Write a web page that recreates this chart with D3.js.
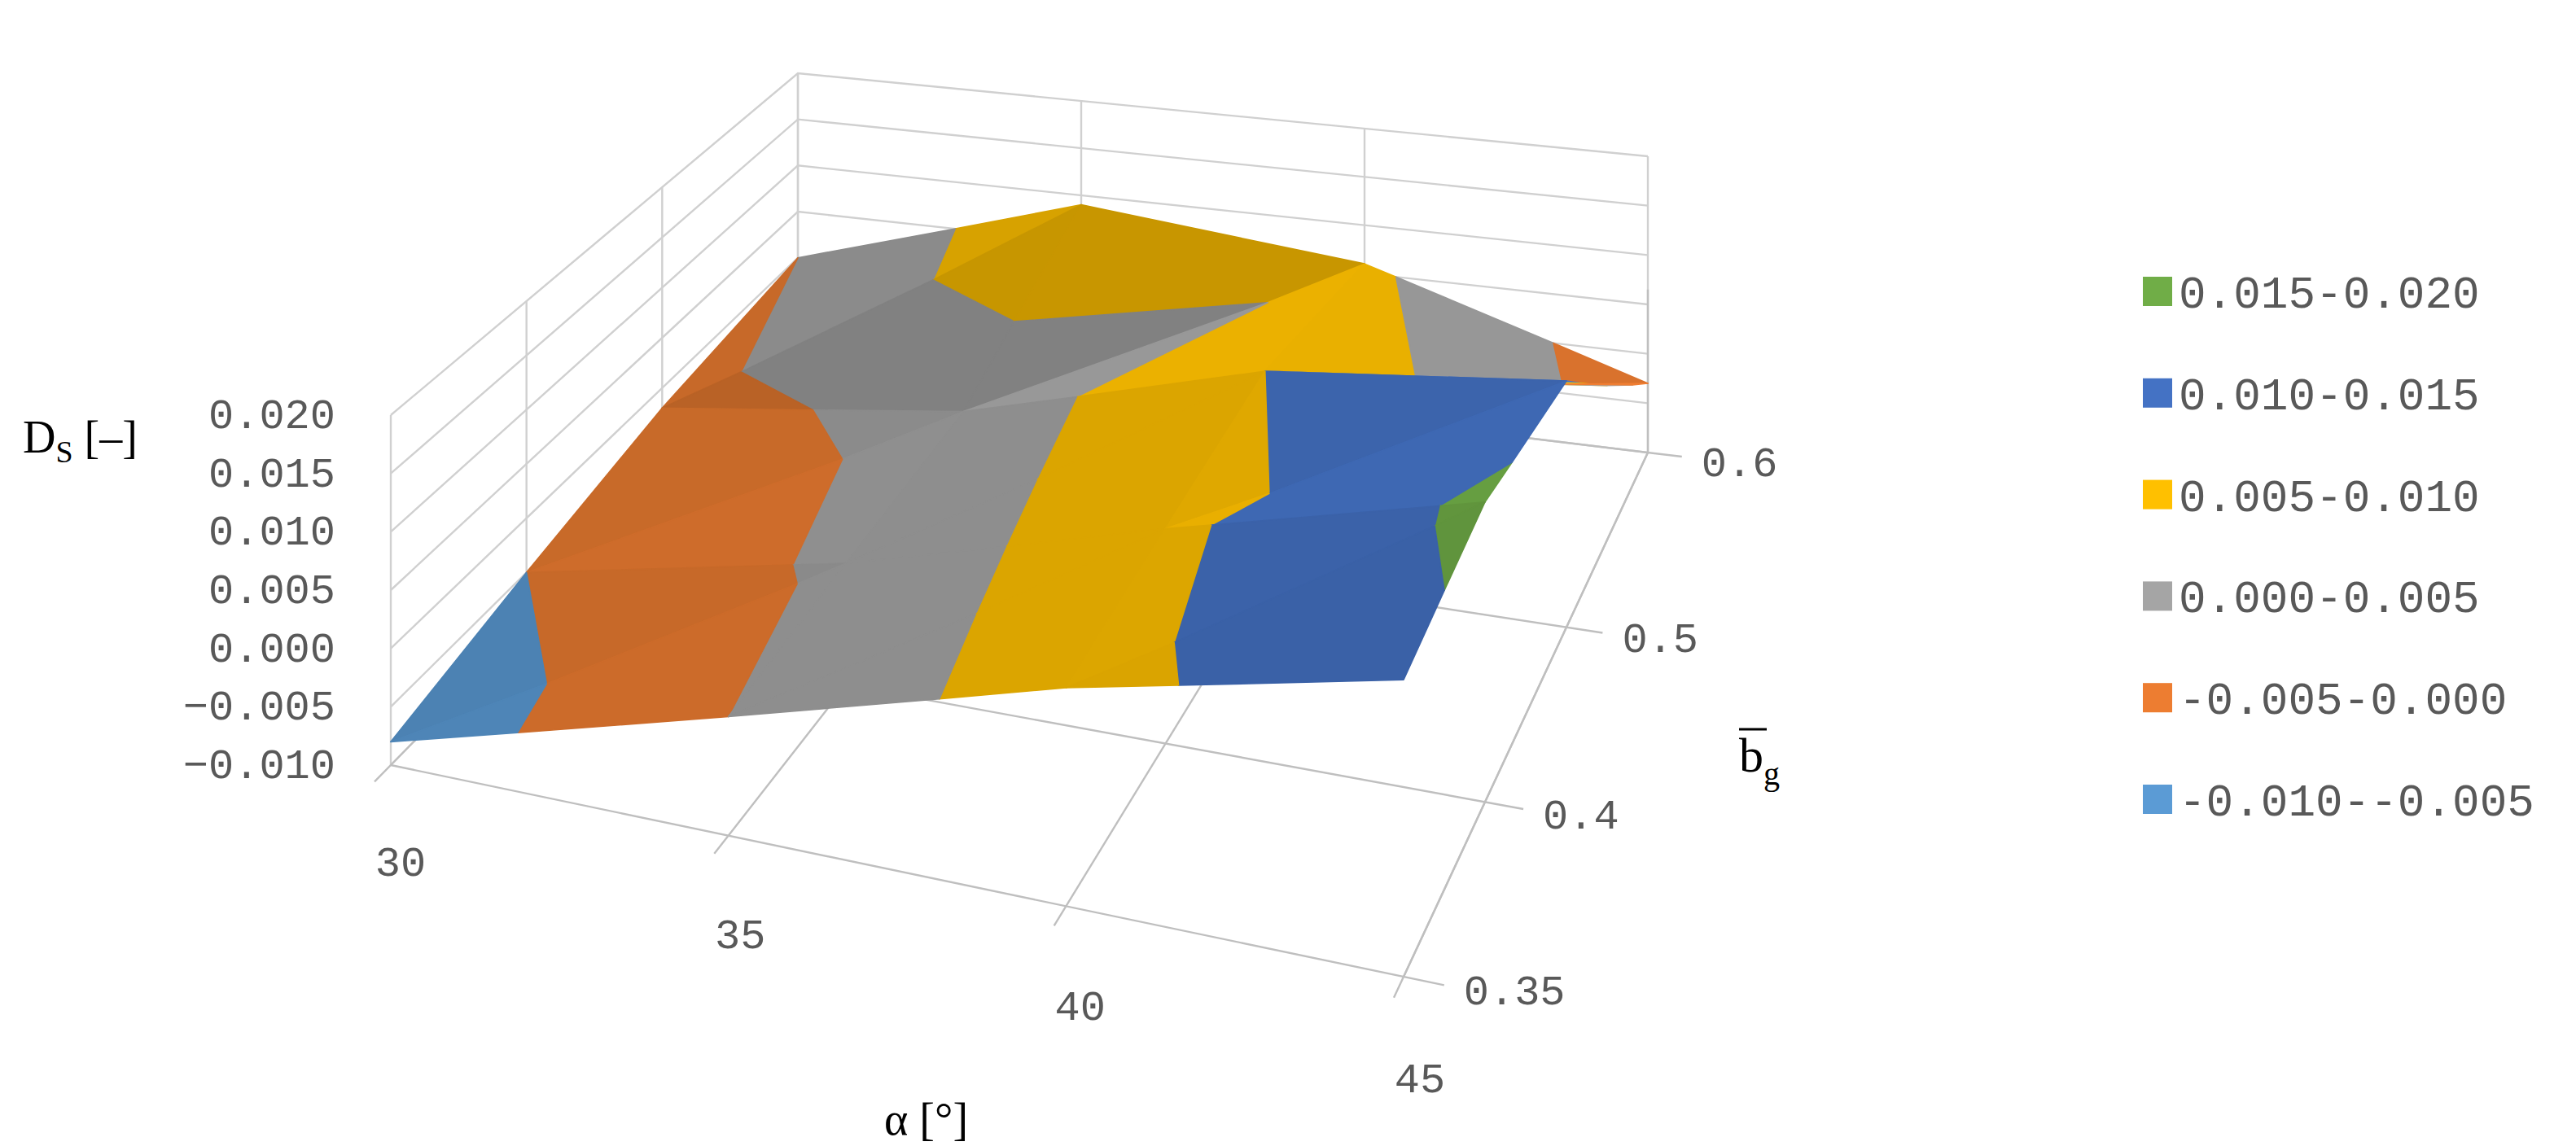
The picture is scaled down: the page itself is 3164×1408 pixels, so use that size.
<!DOCTYPE html>
<html><head><meta charset="utf-8">
<script src="https://cdn.jsdelivr.net/npm/d3@7"></script>
<style>body{margin:0;background:#fff}</style></head>
<body><svg id="c" width="3164" height="1408" viewBox="0 0 1582 704"></svg>
<script>
const alphaCats = ["30","35","40","45"];
const bgCats = ["0.35","0.4","0.5","0.6"];
// Ds values: rows = alpha, columns = bg
const ds30 = [-0.008,-0.005,-0.002,0.000];
const ds35 = [0.000,0.001,0.002,0.009];
const ds40 = [0.008,0.009,0.010,0.006];
const ds45 = [0.014,0.016,0.013,-0.003];
const zTicks = [-0.010,-0.005,0.000,0.005,0.010,0.015,0.020];
const bandLabels = ["0.015-0.020","0.010-0.015","0.005-0.010","0.000-0.005","-0.005-0.000","-0.010--0.005"];
const bandLo = [0.015,0.010,0.005,0.000,-0.005,-0.010];
const bandColors = ["#70AD47","#4472C4","#FFC000","#A5A5A5","#ED7D31","#5B9BD5"];

const grid = [ds30,ds35,ds40,ds45];
const svg = d3.select("#c");
const uS = d3.scalePoint().domain(alphaCats).range([0,1]);
const vS = d3.scalePoint().domain(bgCats).range([0,1]);
const zS = d3.scaleLinear().domain([-0.010,0.020]).range([0,1]);
const C = {p00:[240,470],p10:[862,600],p11:[1012,278],p01:[490,215]};
const H = {p00:215,p10:228,p11:182,p01:170};
function proj(u,v,t){
  const bl=(a,b,c,d)=>a*(1-u)*(1-v)+b*u*(1-v)+c*u*v+d*(1-u)*v;
  const x=bl(C.p00[0],C.p10[0],C.p11[0],C.p01[0]);
  const y=bl(C.p00[1],C.p10[1],C.p11[1],C.p01[1]);
  const h=bl(H.p00,H.p10,H.p11,H.p01);
  return [x,y-h*t];
}
const line=d3.line();
const gl="#d0d0d0";
const walls=svg.append("g");
zTicks.forEach(z=>{const t=zS(z);
  walls.append("path").attr("d",line([proj(0,0,t),proj(0,1,t),proj(1,1,t)])).attr("fill","none").attr("stroke",gl).attr("stroke-width",1.2);});
bgCats.forEach(b=>{const v=vS(b);walls.append("path").attr("d",line([proj(0,v,0),proj(0,v,1)])).attr("stroke",gl).attr("stroke-width",1.2);});
alphaCats.forEach(a=>{const u=uS(a);walls.append("path").attr("d",line([proj(u,1,0),proj(u,1,1)])).attr("stroke",gl).attr("stroke-width",1.2);});
alphaCats.forEach(a=>{const u=uS(a);walls.append("path").attr("d",line([proj(u,-0.04,0),proj(u,1,0)])).attr("stroke","#bfbfbf").attr("stroke-width",1.2);});
bgCats.forEach(b=>{const v=vS(b);walls.append("path").attr("d",line([proj(0,v,0),proj(1.04,v,0)])).attr("stroke","#bfbfbf").attr("stroke-width",1.2);});
walls.append("path").attr("d",line([proj(1,0,0),proj(1,1,0),proj(1,1,0.55)])).attr("fill","none").attr("stroke","#bfbfbf").attr("stroke-width",1.2);

function clip(poly,lo,hi){
  function cut(p,f,val){const out=[];for(let i=0;i<p.length;i++){const a=p[i],b=p[(i+1)%p.length];
    const ia=f(a[2]),ib=f(b[2]);if(ia)out.push(a);
    if(ia!==ib){const s=(val-a[2])/(b[2]-a[2]);out.push([a[0]+s*(b[0]-a[0]),a[1]+s*(b[1]-a[1]),val]);}}return out;}
  let p=cut(poly,z=>z>=lo,lo);if(p.length<3)return p;return cut(p,z=>z<=hi,hi);
}
const L=[0,0.6,0.8];const Ln=Math.hypot(...L);
function shade(tri){
  const s=0.35;const P=tri.map(p=>[p[0],p[1],zS(p[2])*s]);
  const a=P[1].map((d,i)=>d-P[0][i]),b=P[2].map((d,i)=>d-P[0][i]);
  let n=[a[1]*b[2]-a[2]*b[1],a[2]*b[0]-a[0]*b[2],a[0]*b[1]-a[1]*b[0]];
  if(n[2]<0)n=n.map(x=>-x);const nn=Math.hypot(...n);
  const d=(n[0]*L[0]+n[1]*L[1]+n[2]*L[2])/nn/Ln;
  return Math.min(1.02,0.38+0.64*d);
}
const cells=[];
for(let i=0;i<3;i++)for(let j=0;j<3;j++)cells.push({i,j,d:(3-i)+j});
cells.sort((a,b)=>b.d-a.d||a.i-b.i);
const surf=svg.append("g");
cells.forEach(({i,j})=>{
  const P=(ii,jj)=>[uS(alphaCats[ii]),vS(bgCats[jj]),grid[ii][jj]];
  const tris=[[P(i,j),P(i+1,j),P(i+1,j+1)],[P(i,j),P(i+1,j+1),P(i,j+1)]];
  tris.sort((a,b)=>{const da=(1-a[2][0])+a[2][1],db=(1-b[2][0])+b[2][1];return db-da;});
  tris.forEach(tri=>{
    const f=shade(tri);
    bandLo.forEach((lo,k)=>{
      const poly=clip(tri,lo,lo+0.005);if(poly.length<3)return;
      const c=d3.rgb(bandColors[k]);const col=d3.rgb(Math.min(255,c.r*f),Math.min(255,c.g*f),Math.min(255,c.b*f));
      surf.append("path").attr("d",line(poly.map(p=>proj(p[0],p[1],zS(p[2]))))+"Z")
        .attr("fill",col).attr("stroke",col).attr("stroke-width",0.8).attr("stroke-linejoin","round");
    });
  });
});

const font="'Liberation Mono','DejaVu Sans Mono',monospace";
const tc="#595959";
zTicks.forEach(z=>{const p=proj(0,0,zS(z));
  svg.append("text").attr("x",p[0]-34).attr("y",p[1]+8).attr("text-anchor","end").attr("font-family",font).attr("font-size",26).attr("fill",tc).text(d3.format(".3f")(z).replace("-","−"));});
alphaCats.forEach(a=>{const p=proj(uS(a),-0.04,0);
  svg.append("text").attr("x",p[0]+16).attr("y",p[1]+58).attr("text-anchor","middle").attr("font-family",font).attr("font-size",26).attr("fill",tc).text(a);});
bgCats.forEach(b=>{const p=proj(1.04,vS(b),0);
  svg.append("text").attr("x",p[0]+12).attr("y",p[1]+12).attr("text-anchor","start").attr("font-family",font).attr("font-size",26).attr("fill",tc).text(b);});
const t1=svg.append("text").attr("x",14).attr("y",278).attr("font-family","'Liberation Serif',serif").attr("font-size",28).attr("fill","#000");
t1.append("tspan").text("D");t1.append("tspan").attr("font-size",19).attr("dy",6).text("S");t1.append("tspan").attr("dy",-6).text(" [–]");
svg.append("text").attr("x",543).attr("y",697).attr("font-family","'Liberation Serif',serif").attr("font-size",28).attr("fill","#000").text("α [°]");
const t3=svg.append("text").attr("x",1068).attr("y",474).attr("font-family","'Liberation Serif',serif").attr("font-size",30).attr("fill","#000");
t3.append("tspan").text("b");t3.append("tspan").attr("font-size",20).attr("dy",8).text("g");
svg.append("line").attr("x1",1068).attr("x2",1085).attr("y1",448).attr("y2",448).attr("stroke","#000").attr("stroke-width",1.5);
const lg=svg.append("g");
bandLabels.forEach((lb,k)=>{const y=180+k*62.4;
  lg.append("rect").attr("x",1316).attr("y",y-10).attr("width",18).attr("height",18).attr("fill",bandColors[k]);
  lg.append("text").attr("x",1338).attr("y",y+9).attr("font-family",font).attr("font-size",28).attr("fill",tc).text(lb);
});
</script></body></html>
